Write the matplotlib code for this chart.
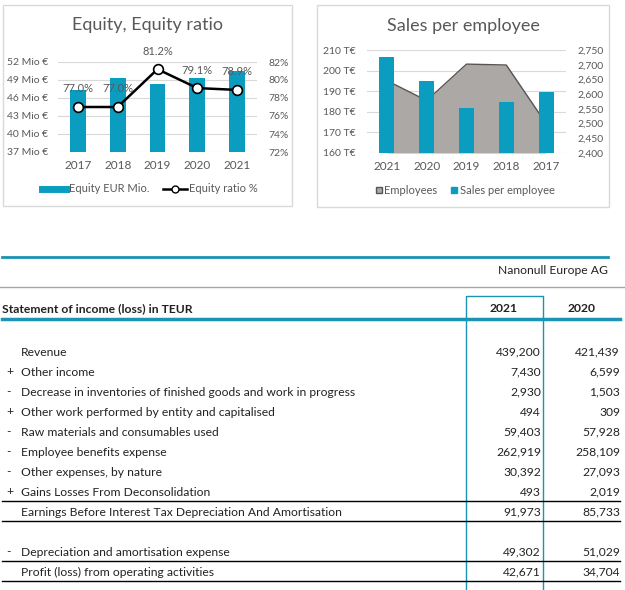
import matplotlib
matplotlib.use("Agg")
import matplotlib.pyplot as plt
from matplotlib.lines import Line2D
from matplotlib.patches import Rectangle

plt.rcParams['font.family'] = ['Lato', 'DejaVu Sans']

W, H = 625, 590
TEAL = "#0a9dc0"
GREY_TXT = "#595959"
GRID = "#d9d9d9"

# equity chart
eq_years = ["2017", "2018", "2019", "2020", "2021"]
equity_mio = [47.4, 49.3, 48.4, 49.4, 50.5]
equity_ratio = [77.0, 77.0, 81.2, 79.1, 78.9]
eq_ticks = [37, 40, 43, 46, 49, 52]
ratio_ticks = [72, 74, 76, 78, 80, 82]

# sales per employee chart
spe_years = ["2021", "2020", "2019", "2018", "2017"]
sales_per_emp = [206.8, 195.0, 181.7, 184.8, 189.6]
employees = [2646, 2578, 2702, 2699, 2500]
spe_ticks = [160, 170, 180, 190, 200, 210]
emp_ticks = [2400, 2450, 2500, 2550, 2600, 2650, 2700, 2750]

# income statement
company = "Nanonull Europe AG"
header = "Statement of income (loss) in TEUR"
col_years = ["2021", "2020"]
signs = ["", "+", "-", "+", "-", "-", "-", "+", "", "", "-", ""]
labels = ["Revenue", "Other income",
          "Decrease in inventories of finished goods and work in progress",
          "Other work performed by entity and capitalised",
          "Raw materials and consumables used",
          "Employee benefits expense",
          "Other expenses, by nature",
          "Gains Losses From Deconsolidation",
          "Earnings Before Interest Tax Depreciation And Amortisation",
          "",
          "Depreciation and amortisation expense",
          "Profit (loss) from operating activities"]
vals_2021 = ["439,200", "7,430", "2,930", "494", "59,403", "262,919", "30,392",
             "493", "91,973", "", "49,302", "42,671"]
vals_2020 = ["421,439", "6,599", "1,503", "309", "57,928", "258,109", "27,093",
             "2,019", "85,733", "", "51,029", "34,704"]
underline_rows = [7, 8, 10, 11]


def px_axes(fig, x0, y0, x1, y1):
    return fig.add_axes([x0 / W, 1 - y1 / H, (x1 - x0) / W, (y1 - y0) / H])


fig = plt.figure(figsize=(W / 100, H / 100), dpi=100)

# background overlay in pixel coordinates
bg = fig.add_axes([0, 0, 1, 1])
bg.set_xlim(0, W)
bg.set_ylim(H, 0)
bg.axis("off")

# chart frames
bg.add_patch(Rectangle((3, 5), 289, 201, fill=False, ec=GRID, lw=1))
bg.add_patch(Rectangle((317, 5), 292, 202, fill=False, ec=GRID, lw=1))

# ---------- Equity chart ----------
ax1 = px_axes(fig, 58, 62, 257, 152)
x = range(len(eq_years))
ax1.bar(x, equity_mio, width=0.4, color=TEAL, zorder=2)
ax1.set_ylim(37, 52)
ax1.set_xlim(-0.5, 4.5)
ax1.set_yticks(eq_ticks)
ax1.set_yticklabels([f"{t} Mio €" for t in eq_ticks])
ax1.set_xticks(list(x))
ax1.set_xticklabels(eq_years)
ax1.grid(axis="y", color=GRID, lw=0.8, zorder=0)
ax1.set_axisbelow(True)
for s in ax1.spines.values():
    s.set_visible(False)
ax1.tick_params(length=0, labelsize=7.5, colors=GREY_TXT, pad=6)
ax1.tick_params(axis="y", pad=7)
for lab in ax1.get_xticklabels():
    lab.set_fontsize(8.5)

ax1b = ax1.twinx()
ax1b.plot(list(x), equity_ratio, color="black", lw=1.8, marker="o", ms=7,
          mfc="white", mec="black", mew=1.2, zorder=3)
ax1b.set_ylim(72, 82)
ax1b.set_yticks(ratio_ticks)
ax1b.set_yticklabels([f"{t}%" for t in ratio_ticks])
for s in ax1b.spines.values():
    s.set_visible(False)
ax1b.tick_params(length=0, labelsize=7.5, colors=GREY_TXT, pad=8)
for i, v in enumerate(equity_ratio):
    ax1b.annotate(f"{v:.1f}%", (i, v), xytext=(0, 9), textcoords="offset points",
                  ha="center", va="bottom", fontsize=8, color=GREY_TXT)

fig.text(148 / W, 1 - 25 / H, "Equity, Equity ratio", ha="center", va="center",
         fontsize=13, color=GREY_TXT)
h1 = [Line2D([], [], color=TEAL, lw=5),
      Line2D([], [], color="black", lw=1.8, marker="o", ms=5, mfc="white", mec="black")]
fig.legend(h1, ["Equity EUR Mio.", "Equity ratio %"], loc="center",
           bbox_to_anchor=(150 / W, 1 - 189 / H), ncol=2, frameon=False,
           fontsize=8, handlelength=2.2, handletextpad=0.2, columnspacing=1.2,
           labelcolor=GREY_TXT)

# ---------- Sales per employee chart ----------
ax2 = px_axes(fig, 367, 50, 566, 153)
x2 = list(range(len(spe_years)))
ax2.set_ylim(160, 210)
ax2.set_xlim(-0.5, 4.5)
ax2.set_yticks(spe_ticks)
ax2.set_yticklabels([f"{t} T€" for t in spe_ticks])
ax2.set_xticks(x2)
ax2.set_xticklabels(spe_years)
ax2.grid(axis="y", color=GRID, lw=0.8)
ax2.set_axisbelow(True)
for s in ax2.spines.values():
    s.set_visible(False)
ax2.tick_params(length=0, labelsize=7.5, colors=GREY_TXT, pad=8)
ax2.tick_params(axis="x", pad=6)
for lab in ax2.get_xticklabels():
    lab.set_fontsize(8.5)

ax2b = ax2.twinx()
ax2b.fill_between(x2, employees, 2400, color="#aba8a6", lw=0, zorder=1)
ax2b.plot(x2, employees, color="#555555", lw=1, zorder=2)
ax2b.set_ylim(2400, 2750)
ax2b.set_yticks(emp_ticks)
ax2b.set_yticklabels([f"{t:,}" for t in emp_ticks])
for s in ax2b.spines.values():
    s.set_visible(False)
ax2b.tick_params(length=0, labelsize=7.5, colors=GREY_TXT, pad=8)
ax2b.bar(x2, [(v - 160) / 50 * 350 + 2400 for v in sales_per_emp], width=0.38,
         color=TEAL, zorder=3)

fig.text(463 / W, 1 - 26 / H, "Sales per employee", ha="center", va="center",
         fontsize=13, color=GREY_TXT)
h2 = [Line2D([], [], ls="", marker="s", ms=5, mfc="#aba8a6", mec="#555555"),
      Line2D([], [], ls="", marker="s", ms=5, mfc=TEAL, mec=TEAL)]
fig.legend(h2, ["Employees", "Sales per employee"], loc="center",
           bbox_to_anchor=(465 / W, 1 - 190 / H), ncol=2, frameon=False,
           fontsize=8, handlelength=0.6, handletextpad=0.2, columnspacing=1.2,
           labelcolor=GREY_TXT)

# ---------- income statement ----------
TXT = "#222222"
FS = 8.7
bg.plot([2, 608], [257, 257], color="#1b93b3", lw=2)
bg.text(608, 271, company, ha="right", va="center", fontsize=FS, color=TXT)
bg.plot([0, 625], [287, 287], color="#a6a6a6", lw=1)
bg.text(2, 309, header, ha="left", va="center", fontsize=FS, fontweight="bold", color=TXT)
bg.text(504, 309, col_years[0], ha="center", va="center", fontsize=FS, fontweight="bold", color=TXT)
bg.text(582, 309, col_years[1], ha="center", va="center", fontsize=FS, fontweight="bold", color=TXT)
bg.plot([2, 620], [319, 319], color="#1b93b3", lw=2.5)
# highlight box for current year
bg.plot([466, 466, 543, 543], [590, 296, 296, 590], color="#1b93b3", lw=1)

for i, lab in enumerate(labels):
    y = 352 + i * 20
    bg.text(6, y, signs[i], ha="left", va="center", fontsize=FS, color=TXT)
    bg.text(21, y, lab, ha="left", va="center", fontsize=FS, color=TXT)
    bg.text(541, y, vals_2021[i], ha="right", va="center", fontsize=FS, color=TXT)
    bg.text(620, y, vals_2020[i], ha="right", va="center", fontsize=FS, color=TXT)
    if i in underline_rows:
        bg.plot([2, 620], [y + 8.5, y + 8.5], color="black", lw=1)

fig.savefig("out.png", dpi=100)
